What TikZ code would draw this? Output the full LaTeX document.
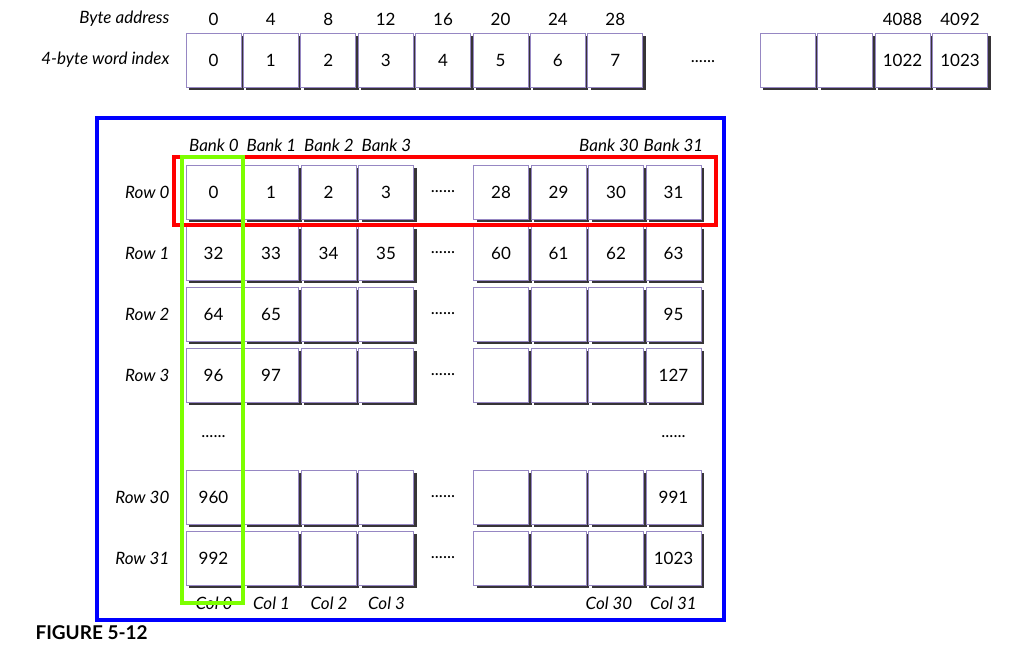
\documentclass[tikz,border=0pt]{standalone}
\usepackage{fontspec}
\setmainfont{Lato}
\usetikzlibrary{shadows}

\definecolor{cellline}{RGB}{150,135,195}
\definecolor{cellshadow}{RGB}{55,52,55}
\definecolor{bankgreen}{RGB}{125,255,0}

\begin{document}
\begin{tikzpicture}[x=1pt,y=-1pt]
        % Define styles
        \tikzset{
            cell/.style={rectangle, draw=cellline, fill=white, line width=0.9pt, minimum width=55pt, minimum height=54pt, inner sep=0pt,
                drop shadow={shadow xshift=3pt, shadow yshift=-3pt, fill=cellshadow, opacity=1}, font=\fontsize{17}{19}\selectfont},
            headtext/.style={anchor=east, font=\fontsize{17}{19}\selectfont\itshape},
            plaintext/.style={font=\fontsize{17}{19}\selectfont},
            banktext/.style={font=\fontsize{17}{19}\selectfont\itshape},
            frame/.style={line width=3.5pt}
        }
        \useasboundingbox (0,0) rectangle (1022,649);

        % Word array
        \node[headtext] (byte_head) at (173,19) {Byte address};
        \node[headtext] (word_head) at (173,60) {4-byte word index};
        \foreach \i in {0,...,7} {
            \pgfmathtruncatemacro\addr{4*\i}
            \node[plaintext] (addr_node_\i) at ({213.5+57.4*\i},19) {\addr};
            \node[cell] (word_node_\i) at ({213.5+57.4*\i},60) {\i};
        }
        \node[plaintext] (word_dots) at (703,62) {......};
        \node[cell] (word_node_a) at (787.5,60) {};
        \node[cell] (word_node_b) at (845,60) {};
        \node[cell] (word_node_1022) at (902.5,60) {1022};
        \node[cell] (word_node_1023) at (960,60) {1023};
        \node[plaintext] (addr_node_1022) at (902.5,19) {4088};
        \node[plaintext] (addr_node_1023) at (960,19) {4092};

        % Bank grid
        \foreach \r/\y/\cells in {0/192/{0,1,2,3,28,29,30,31}, 1/253/{32,33,34,35,60,61,62,63},
                2/314/{64,65,{},{},{},{},{},95}, 3/375/{96,97,{},{},{},{},{},127},
                30/497/{960,{},{},{},{},{},{},991}, 31/558/{992,{},{},{},{},{},{},1023}} {
            \node[headtext] (row_label_\r) at (173,\y) {Row \r};
            \foreach \c [count=\k from 0] in \cells {
                \pgfmathtruncatemacro\slot{\k<4 ? \k : \k+1}
                \node[cell] (cell_\r_\k) at ({213.5+57.5*\slot},\y) {\c};
            }
            \node[plaintext] (row_dots_\r) at (443,\y) {......};
        }
        \node[plaintext] (col_dots_0) at (213.5,437) {......};
        \node[plaintext] (col_dots_31) at (673.5,437) {......};

        % Bank and column labels
        \foreach \k in {0,...,3} {
            \node[banktext] (bank_label_\k) at ({214+57.5*\k},145) {Bank \k};
            \node[banktext] (col_label_\k) at ({214+57.5*\k},603) {Col \k};
        }
        \node[banktext] (bank_label_30) at (609,145) {Bank 30};
        \node[banktext] (bank_label_31) at (673.5,145) {Bank 31};
        \node[banktext] (col_label_30) at (609,603) {Col 30};
        \node[banktext] (col_label_31) at (673.5,603) {Col 31};

        % Frames
        \draw[frame, blue] (97,118) rectangle (724,620);
        \draw[frame, red] (174,157) rectangle (716,225);
        \draw[frame, bankgreen] (182,157) rectangle (243,603);

        % Caption
        \node[anchor=west, font=\fontsize{19}{21}\selectfont\bfseries] (fig_caption) at (32,633) {FIGURE 5-12};
\end{tikzpicture}
\end{document}
